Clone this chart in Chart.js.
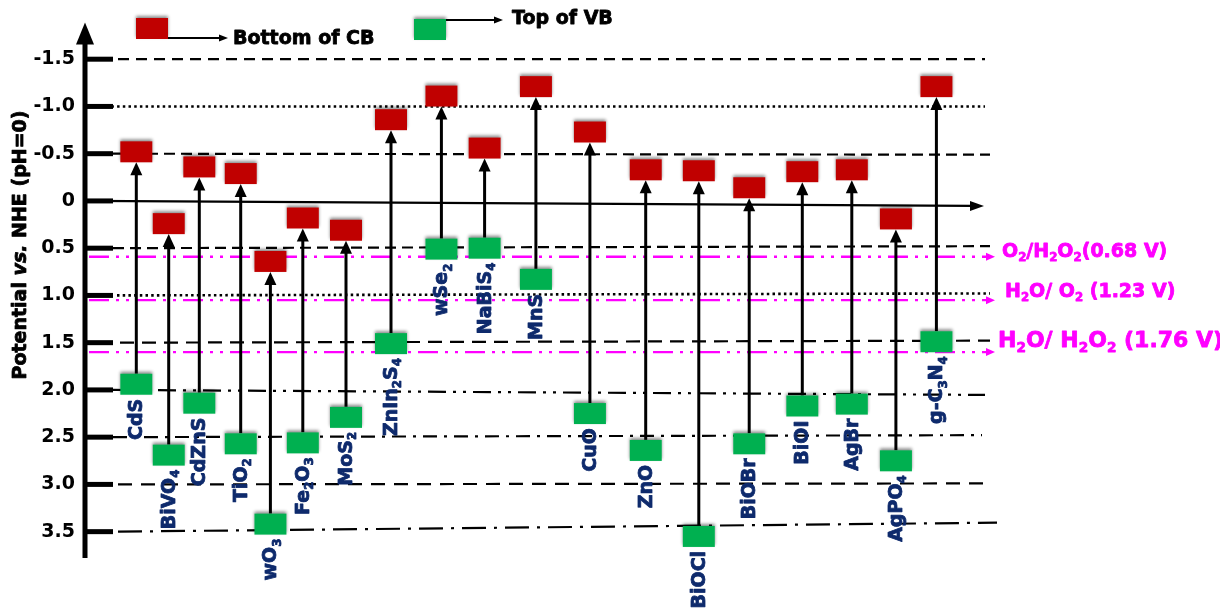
<!DOCTYPE html>
<html><head><meta charset="utf-8">
<script src="https://cdn.jsdelivr.net/npm/chart.js@4.4.0/dist/chart.umd.min.js"></script>
<style>html,body{margin:0;padding:0;background:#fff;overflow:hidden}#wrap{width:1220px;height:612px;position:relative}</style>
</head><body><div id="wrap"><canvas id="c" width="1220" height="612"></canvas></div>
<script>
// ---------- data ----------
const categories = ['CdS','BiVO₄','CdZnS','TiO₂','wO₃','Fe₂O₃','MoS₂','ZnIn₂S₄','wSe₂','NaBiS₄','MnS','CuO','ZnO','BiOCl','BiOBr','BiOI','AgBr','AgPO₄','g-C₃N₄'];
const categoryX = [5.7,9.3,12.7,17.3,20.6,24.2,29.0,34.0,39.6,44.4,50.1,56.1,62.3,68.2,73.8,79.7,85.2,90.1,94.6];
const cbValues = [-0.52,0.24,-0.36,-0.29,0.64,0.18,0.31,-0.86,-1.11,-0.56,-1.21,-0.73,-0.33,-0.32,-0.14,-0.31,-0.33,0.19,-1.21];
const vbValues = [1.94,2.69,2.14,2.57,3.42,2.56,2.29,1.51,0.51,0.50,0.83,2.25,2.64,3.55,2.57,2.17,2.15,2.75,1.49];
const yTicks = [-1.5,-1.0,-0.5,0,0.5,1.0,1.5,2.0,2.5,3.0,3.5];
const redoxLevels = [0.59,1.05,1.60];
const redoxLabels = ['O₂/H₂O₂(0.68 V)','H₂O/ O₂ (1.23 V)','H₂O/ H₂O₂ (1.76 V)'];
const legendLabels = ['Bottom of CB','Top of VB'];
const axisTitleParts = ['Potential ','vs.',' NHE (pH=0)'];

// ---------- styles ----------
const RED='#C00000', GREEN='#00B050', NAVY='#0E2A6C', MAG='#FF00FF';
const FAM='"DejaVu Sans"';
const BOX_W=32, BOX_H=21;
const refStyle = {
  '-1.5':{dash:[11,7],lw:2.2,x0:118,x1:985,tilt:0},
  '-1':{dash:[2.5,3.2],lw:2.6,x0:100,x1:985,tilt:0},
  '-0.5':{dash:[11,6],lw:2.2,x0:113,x1:990,tilt:1},
  '0.5':{dash:[11,6],lw:2.2,x0:113,x1:990,tilt:-2},
  '1':{dash:[2.5,3.2],lw:2.6,x0:117,x1:990,tilt:-2},
  '1.5':{dash:[14,8],lw:2.2,x0:120,x1:990,tilt:-2},
  '2':{dash:[18,7,3,7,3,7],lw:2.2,x0:113,x1:985,tilt:5},
  '2.5':{dash:[14,7,3,7],lw:2.2,x0:113,x1:982,tilt:-2},
  '3':{dash:[14,9],lw:2.2,x0:118,x1:983,tilt:-1},
  '3.5':{dash:[24,8,3,8],lw:2.2,x0:118,x1:997,tilt:-9}
};

function boxImage(color){
  const c=document.createElement('canvas'); c.width=BOX_W+12; c.height=BOX_H+14;
  const g=c.getContext('2d');
  g.shadowColor='rgba(0,0,0,0.45)'; g.shadowBlur=3; g.shadowOffsetY=-2;
  g.fillStyle=color; g.fillRect(6,7,BOX_W,BOX_H);
  return c;
}
const redImg=boxImage(RED), greenImg=boxImage(GREEN);

function parseRich(text){
  const segs=[];
  for(const ch of text){
    const cp=ch.codePointAt(0);
    const sub=cp>=0x2080&&cp<=0x2089;
    const t=sub?String.fromCharCode(48+cp-0x2080):ch;
    if(segs.length&&segs[segs.length-1].sub===sub) segs[segs.length-1].t+=t; else segs.push({t,sub});
  }
  return segs;
}
function drawRich(ctx,text,x,y,size,align,italic){
  const segs=parseRich(text);
  const f=sz=>`${italic?'italic ':''}bold ${sz}px ${FAM}`;
  let w=0;
  segs.forEach(s=>{ctx.font=f(s.sub?size*0.62:size);s.w=ctx.measureText(s.t).width;w+=s.w;});
  let cx=align==='right'?x-w:align==='center'?x-w/2:x;
  ctx.textAlign='left';ctx.textBaseline='middle';
  ctx.strokeStyle=ctx.fillStyle;ctx.lineWidth=0.8;ctx.lineJoin='round';ctx.setLineDash([]);
  segs.forEach(s=>{ctx.font=f(s.sub?size*0.62:size);const yy=y+(s.sub?size*0.33:0);ctx.fillText(s.t,cx,yy);ctx.strokeText(s.t,cx,yy);cx+=s.w;});
  return w;
}
function arrowHead(ctx,tx,ty,dir,len,half){
  ctx.beginPath();
  if(dir==='up'){ctx.moveTo(tx,ty);ctx.lineTo(tx-half,ty+len);ctx.lineTo(tx+half,ty+len);}
  else {ctx.moveTo(tx,ty);ctx.lineTo(tx-len,ty-half);ctx.lineTo(tx-len,ty+half);}
  ctx.closePath();ctx.fill();
}

const diagram={
  id:'diagram',
  beforeDatasetsDraw(chart){
    const ctx=chart.ctx, ys=chart.scales.y, xs=chart.scales.x, ca=chart.chartArea;
    ctx.save();
    yTicks.forEach(v=>{
      if(v===0) return;
      const st=refStyle[String(v)]; const py=ys.getPixelForValue(v);
      ctx.strokeStyle='#000';ctx.lineWidth=st.lw;ctx.setLineDash(st.dash);
      ctx.beginPath();ctx.moveTo(st.x0,py);ctx.lineTo(st.x1,py+st.tilt);ctx.stroke();
    });
    ctx.strokeStyle=MAG;ctx.fillStyle=MAG;ctx.lineWidth=2.4;ctx.setLineDash([20,7,3,7,3,7]);
    redoxLevels.forEach(v=>{
      const py=ys.getPixelForValue(v);
      ctx.beginPath();ctx.moveTo(89,py);ctx.lineTo(987,py);ctx.stroke();
      arrowHead(ctx,995,py,'right',9,4);
    });
    ctx.setLineDash([]);
    const p0=ys.getPixelForValue(0);
    ctx.strokeStyle='#000';ctx.fillStyle='#000';ctx.lineWidth=2.2;
    ctx.beginPath();ctx.moveTo(85,p0);ctx.lineTo(972,p0+5);ctx.stroke();
    arrowHead(ctx,984,p0+5,'right',14,5);
    ctx.lineWidth=5;
    ctx.beginPath();ctx.moveTo(85,ca.bottom-2);ctx.lineTo(85,ca.top+18);ctx.stroke();
    arrowHead(ctx,85,ca.top+1,'up',22,9);
    yTicks.forEach(v=>{const py=ys.getPixelForValue(v);ctx.beginPath();ctx.moveTo(85,py);ctx.lineTo(113,py);ctx.stroke();});
    ctx.lineWidth=3;
    categories.forEach((c,i)=>{
      const px=xs.getPixelForValue(categoryX[i]);
      const yTop=ys.getPixelForValue(cbValues[i])+BOX_H/2;
      const yBot=ys.getPixelForValue(vbValues[i])-BOX_H/2;
      ctx.beginPath();ctx.moveTo(px,yBot);ctx.lineTo(px,yTop+10);ctx.stroke();
      arrowHead(ctx,px,yTop,'up',13,6);
    });
    ctx.restore();
  },
  afterDatasetsDraw(chart){
    const ctx=chart.ctx, ys=chart.scales.y, xs=chart.scales.x;
    ctx.save();
    ctx.fillStyle=NAVY;
    categories.forEach((c,i)=>{
      const px=xs.getPixelForValue(categoryX[i]);
      const top=ys.getPixelForValue(vbValues[i])+BOX_H/2+4;
      ctx.save();ctx.translate(px+1,top);ctx.rotate(-Math.PI/2);
      ctx.fillStyle=NAVY;
      drawRich(ctx,c,0,0,19,'right');
      ctx.restore();
    });
    ctx.fillStyle=MAG;
    const rPos=[[1002,252,19],[1005,292,19],[998,341,22]];
    redoxLabels.forEach((t,i)=>{ctx.fillStyle=MAG;drawRich(ctx,t,rPos[i][0],rPos[i][1],rPos[i][2],'left');});
    ctx.drawImage(redImg,136-6,18-7);
    ctx.drawImage(greenImg,414-6,19-7);
    ctx.strokeStyle='#000';ctx.fillStyle='#000';ctx.lineWidth=2;
    ctx.beginPath();ctx.moveTo(168,38);ctx.lineTo(220,38);ctx.stroke();arrowHead(ctx,228,38,'right',9,3.5);
    ctx.beginPath();ctx.moveTo(446,20);ctx.lineTo(495,20);ctx.stroke();arrowHead(ctx,503,20,'right',9,3.5);
    ctx.fillStyle='#000';
    drawRich(ctx,legendLabels[0],233,39,19,'left');
    ctx.fillStyle='#000';
    drawRich(ctx,legendLabels[1],512,19,19,'left');
    ctx.save();ctx.translate(21,245);ctx.rotate(-Math.PI/2);
    ctx.font=`bold 19px ${FAM}`;const w0=ctx.measureText(axisTitleParts[0]).width, w2=ctx.measureText(axisTitleParts[2]).width;
    ctx.font=`italic bold 19px ${FAM}`;const w1=ctx.measureText(axisTitleParts[1]).width;
    let sx=-(w0+w1+w2)/2;
    ctx.fillStyle='#000';
    sx+=drawRich(ctx,axisTitleParts[0],sx,0,19,'left');
    sx+=drawRich(ctx,axisTitleParts[1],sx,0,19,'left',true);
    drawRich(ctx,axisTitleParts[2],sx,0,19,'left');
    ctx.restore();
    ctx.restore();
  }
};

new Chart(document.getElementById('c'),{
  type:'scatter',
  data:{datasets:[
    {label:legendLabels[0],data:categories.map((c,i)=>({x:categoryX[i],y:cbValues[i]})),pointStyle:redImg,pointRadius:16},
    {label:legendLabels[1],data:categories.map((c,i)=>({x:categoryX[i],y:vbValues[i]})),pointStyle:greenImg,pointRadius:16}
  ]},
  options:{
    responsive:false,animation:false,devicePixelRatio:1,
    layout:{padding:{left:0,right:235,top:20,bottom:52}},
    plugins:{legend:{display:false},tooltip:{enabled:false}},
    scales:{
      x:{type:'linear',min:0,max:100,display:false},
      y:{type:'linear',reverse:true,min:-1.9,max:3.8,
        afterBuildTicks:s=>{s.ticks=yTicks.map(v=>({value:v}));},
        afterFit:s=>{s.width=85;},
        grid:{display:false,drawTicks:false},border:{display:false},
        ticks:{padding:10,color:'#000',font:{family:'DejaVu Sans',weight:'bold',size:19},
          callback:v=>v===0?'0':v.toFixed(1)}
      }
    }
  },
  plugins:[diagram]
});
</script></body></html>
